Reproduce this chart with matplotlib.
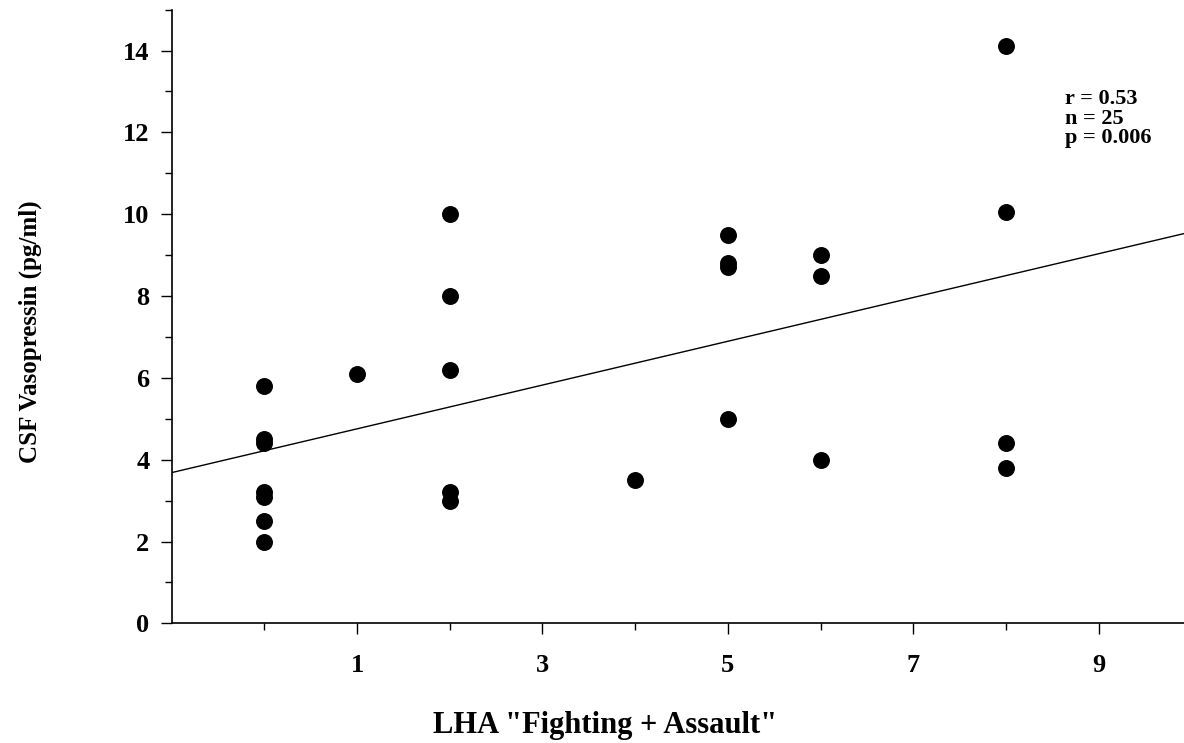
import matplotlib.pyplot as plt
from matplotlib.ticker import MultipleLocator, FixedLocator

# LHA "Fighting + Assault" score vs CSF vasopressin
fighting = [0, 0, 0, 0, 0, 0, 0,
            1,
            2, 2, 2, 2, 2,
            4,
            5, 5, 5, 5,
            6, 6, 6,
            8, 8, 8, 8]
vasopressin = [5.8, 4.5, 4.4, 3.2, 3.1, 2.5, 2.0,
               6.1,
               10.0, 8.0, 6.2, 3.2, 3.0,
               3.5,
               9.5, 8.8, 8.7, 5.0,
               9.0, 8.5, 4.0,
               14.1, 10.05, 4.4, 3.8]

# regression line
slope = 0.535
intercept = 4.22
line_x = [-1, 10]

stats_lines = ["r = 0.53", "n = 25", "p = 0.006"]

plt.rcParams['font.family'] = ['Liberation Serif', 'DejaVu Serif']
plt.rcParams['font.weight'] = 'bold'

fig = plt.figure(figsize=(11.84, 7.43), dpi=100)
ax = fig.add_axes([0.145, 0.161, 0.855, 0.826])

ax.scatter(fighting, vasopressin, s=125, color='black', zorder=3)
ax.plot(line_x, [intercept + slope * x for x in line_x], color='black', lw=1.0)

ax.set_xlim(-1, 9.92)
ax.set_ylim(0, 15)

ax.xaxis.set_major_locator(FixedLocator([1, 3, 5, 7, 9]))
ax.xaxis.set_minor_locator(FixedLocator([0, 2, 4, 6, 8]))
ax.yaxis.set_major_locator(FixedLocator([0, 2, 4, 6, 8, 10, 12, 14]))
ax.yaxis.set_minor_locator(MultipleLocator(1))

ax.tick_params(which='major', length=8, width=1.0, labelsize=19)
ax.tick_params(axis='x', which='major', pad=14)
ax.tick_params(axis='y', which='major', pad=8)
ax.tick_params(which='minor', length=5, width=1.0)
for lbl in ax.get_xticklabels() + ax.get_yticklabels():
    lbl.set_fontweight('bold')

ax.spines['top'].set_visible(False)
ax.spines['right'].set_visible(False)
ax.spines['left'].set_linewidth(1.2)
ax.spines['bottom'].set_linewidth(1.2)

ax.set_xlabel('LHA "Fighting + Assault"', fontsize=22, fontweight='bold', va='center')
ax.set_ylabel('CSF Vasopressin (pg/ml)', fontsize=18, fontweight='bold')
ax.xaxis.set_label_coords(0.428, -0.166)
ax.yaxis.set_label_coords(-0.128, 0.476)

ax.text(0.882, 0.87, "\n".join(stats_lines), transform=ax.transAxes,
        fontsize=16, fontweight='bold', va='top', ha='left', linespacing=0.95)

fig.savefig('out.png', dpi=100)
